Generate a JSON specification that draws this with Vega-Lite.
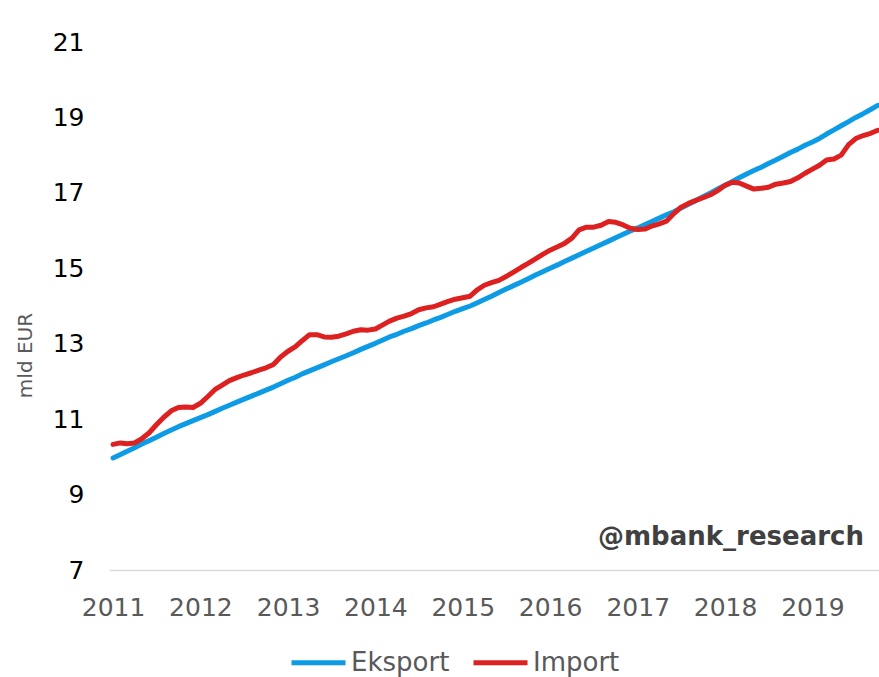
{
  "$schema": "https://vega.github.io/schema/vega-lite/v6.json",
  "width": 770,
  "height": 528,
  "autosize": {"type": "none"},
  "padding": {"left": 109, "top": 42, "right": 0, "bottom": 107},
  "background": "white",
  "config": {
    "view": {"stroke": null},
    "font": "DejaVu Sans"
  },
  "layer": [
    {
      "data": {
        "values": [
          {"d":"2011-01-01","Eksport":9.97,"Import":10.33},
          {"d":"2011-02-01","Eksport":10.06,"Import":10.37},
          {"d":"2011-03-01","Eksport":10.15,"Import":10.35},
          {"d":"2011-04-01","Eksport":10.24,"Import":10.37},
          {"d":"2011-05-01","Eksport":10.34,"Import":10.48},
          {"d":"2011-06-01","Eksport":10.43,"Import":10.64},
          {"d":"2011-07-01","Eksport":10.52,"Import":10.85},
          {"d":"2011-08-01","Eksport":10.62,"Import":11.05},
          {"d":"2011-09-01","Eksport":10.71,"Import":11.22},
          {"d":"2011-10-01","Eksport":10.80,"Import":11.31},
          {"d":"2011-11-01","Eksport":10.88,"Import":11.32},
          {"d":"2011-12-01","Eksport":10.96,"Import":11.31},
          {"d":"2012-01-01","Eksport":11.04,"Import":11.42},
          {"d":"2012-02-01","Eksport":11.12,"Import":11.60},
          {"d":"2012-03-01","Eksport":11.20,"Import":11.78},
          {"d":"2012-04-01","Eksport":11.29,"Import":11.90},
          {"d":"2012-05-01","Eksport":11.37,"Import":12.02},
          {"d":"2012-06-01","Eksport":11.45,"Import":12.10},
          {"d":"2012-07-01","Eksport":11.53,"Import":12.17},
          {"d":"2012-08-01","Eksport":11.61,"Import":12.23},
          {"d":"2012-09-01","Eksport":11.69,"Import":12.30},
          {"d":"2012-10-01","Eksport":11.77,"Import":12.36},
          {"d":"2012-11-01","Eksport":11.85,"Import":12.45},
          {"d":"2012-12-01","Eksport":11.94,"Import":12.65},
          {"d":"2013-01-01","Eksport":12.03,"Import":12.80},
          {"d":"2013-02-01","Eksport":12.11,"Import":12.92},
          {"d":"2013-03-01","Eksport":12.20,"Import":13.08},
          {"d":"2013-04-01","Eksport":12.28,"Import":13.24},
          {"d":"2013-05-01","Eksport":12.36,"Import":13.24},
          {"d":"2013-06-01","Eksport":12.44,"Import":13.18},
          {"d":"2013-07-01","Eksport":12.52,"Import":13.17},
          {"d":"2013-08-01","Eksport":12.60,"Import":13.20},
          {"d":"2013-09-01","Eksport":12.68,"Import":13.26},
          {"d":"2013-10-01","Eksport":12.76,"Import":13.33},
          {"d":"2013-11-01","Eksport":12.85,"Import":13.37},
          {"d":"2013-12-01","Eksport":12.93,"Import":13.36},
          {"d":"2014-01-01","Eksport":13.01,"Import":13.39},
          {"d":"2014-02-01","Eksport":13.10,"Import":13.50},
          {"d":"2014-03-01","Eksport":13.18,"Import":13.60},
          {"d":"2014-04-01","Eksport":13.25,"Import":13.68},
          {"d":"2014-05-01","Eksport":13.33,"Import":13.73},
          {"d":"2014-06-01","Eksport":13.40,"Import":13.80},
          {"d":"2014-07-01","Eksport":13.48,"Import":13.90},
          {"d":"2014-08-01","Eksport":13.55,"Import":13.95},
          {"d":"2014-09-01","Eksport":13.63,"Import":13.98},
          {"d":"2014-10-01","Eksport":13.70,"Import":14.05},
          {"d":"2014-11-01","Eksport":13.78,"Import":14.12},
          {"d":"2014-12-01","Eksport":13.86,"Import":14.18},
          {"d":"2015-01-01","Eksport":13.93,"Import":14.22},
          {"d":"2015-02-01","Eksport":14.00,"Import":14.26},
          {"d":"2015-03-01","Eksport":14.08,"Import":14.42},
          {"d":"2015-04-01","Eksport":14.17,"Import":14.55},
          {"d":"2015-05-01","Eksport":14.26,"Import":14.62},
          {"d":"2015-06-01","Eksport":14.36,"Import":14.68},
          {"d":"2015-07-01","Eksport":14.45,"Import":14.78},
          {"d":"2015-08-01","Eksport":14.54,"Import":14.90},
          {"d":"2015-09-01","Eksport":14.63,"Import":15.02},
          {"d":"2015-10-01","Eksport":14.72,"Import":15.13},
          {"d":"2015-11-01","Eksport":14.82,"Import":15.25},
          {"d":"2015-12-01","Eksport":14.91,"Import":15.37},
          {"d":"2016-01-01","Eksport":15.00,"Import":15.48},
          {"d":"2016-02-01","Eksport":15.09,"Import":15.57},
          {"d":"2016-03-01","Eksport":15.18,"Import":15.66},
          {"d":"2016-04-01","Eksport":15.27,"Import":15.80},
          {"d":"2016-05-01","Eksport":15.36,"Import":16.02},
          {"d":"2016-06-01","Eksport":15.45,"Import":16.09},
          {"d":"2016-07-01","Eksport":15.54,"Import":16.09},
          {"d":"2016-08-01","Eksport":15.63,"Import":16.14},
          {"d":"2016-09-01","Eksport":15.72,"Import":16.24},
          {"d":"2016-10-01","Eksport":15.81,"Import":16.22},
          {"d":"2016-11-01","Eksport":15.90,"Import":16.15},
          {"d":"2016-12-01","Eksport":15.99,"Import":16.06},
          {"d":"2017-01-01","Eksport":16.07,"Import":16.03},
          {"d":"2017-02-01","Eksport":16.16,"Import":16.04},
          {"d":"2017-03-01","Eksport":16.24,"Import":16.12},
          {"d":"2017-04-01","Eksport":16.33,"Import":16.18},
          {"d":"2017-05-01","Eksport":16.42,"Import":16.25},
          {"d":"2017-06-01","Eksport":16.50,"Import":16.45},
          {"d":"2017-07-01","Eksport":16.60,"Import":16.62},
          {"d":"2017-08-01","Eksport":16.70,"Import":16.72},
          {"d":"2017-09-01","Eksport":16.80,"Import":16.80},
          {"d":"2017-10-01","Eksport":16.90,"Import":16.87},
          {"d":"2017-11-01","Eksport":17.00,"Import":16.95},
          {"d":"2017-12-01","Eksport":17.10,"Import":17.06},
          {"d":"2018-01-01","Eksport":17.20,"Import":17.20},
          {"d":"2018-02-01","Eksport":17.30,"Import":17.28},
          {"d":"2018-03-01","Eksport":17.40,"Import":17.26},
          {"d":"2018-04-01","Eksport":17.50,"Import":17.18},
          {"d":"2018-05-01","Eksport":17.59,"Import":17.10},
          {"d":"2018-06-01","Eksport":17.68,"Import":17.12},
          {"d":"2018-07-01","Eksport":17.78,"Import":17.15},
          {"d":"2018-08-01","Eksport":17.87,"Import":17.23},
          {"d":"2018-09-01","Eksport":17.97,"Import":17.26},
          {"d":"2018-10-01","Eksport":18.07,"Import":17.30},
          {"d":"2018-11-01","Eksport":18.16,"Import":17.40},
          {"d":"2018-12-01","Eksport":18.26,"Import":17.52},
          {"d":"2019-01-01","Eksport":18.35,"Import":17.63},
          {"d":"2019-02-01","Eksport":18.45,"Import":17.74},
          {"d":"2019-03-01","Eksport":18.56,"Import":17.87},
          {"d":"2019-04-01","Eksport":18.67,"Import":17.90},
          {"d":"2019-05-01","Eksport":18.78,"Import":18.00},
          {"d":"2019-06-01","Eksport":18.89,"Import":18.28},
          {"d":"2019-07-01","Eksport":19.00,"Import":18.44},
          {"d":"2019-08-01","Eksport":19.10,"Import":18.52},
          {"d":"2019-09-01","Eksport":19.21,"Import":18.58},
          {"d":"2019-10-01","Eksport":19.32,"Import":18.66}
        ]
      },
      "transform": [{"fold": ["Eksport", "Import"], "as": ["seria", "wartosc"]}],
      "mark": {"type": "line", "strokeWidth": 5, "strokeCap": "round", "strokeJoin": "round", "clip": true},
      "encoding": {
        "x": {
          "field": "d",
          "type": "temporal",
          "scale": {
            "type": "utc",
            "domain": [
              {"year": 2010, "month": 12, "date": 15, "utc": true},
              {"year": 2019, "month": 10, "date": 6, "utc": true}
            ]
          },
          "axis": {
            "title": null,
            "format": "%Y",
            "values": [
              {"year": 2011, "month": 1, "date": 1, "utc": true},
              {"year": 2012, "month": 1, "date": 1, "utc": true},
              {"year": 2013, "month": 1, "date": 1, "utc": true},
              {"year": 2014, "month": 1, "date": 1, "utc": true},
              {"year": 2015, "month": 1, "date": 1, "utc": true},
              {"year": 2016, "month": 1, "date": 1, "utc": true},
              {"year": 2017, "month": 1, "date": 1, "utc": true},
              {"year": 2018, "month": 1, "date": 1, "utc": true},
              {"year": 2019, "month": 1, "date": 1, "utc": true}
            ],
            "grid": false,
            "ticks": false,
            "tickSize": 0,
            "domain": true,
            "domainColor": "#D9D9D9",
            "domainWidth": 1.5,
            "labelFont": "DejaVu Sans",
            "labelFontSize": 25,
            "labelColor": "#595959",
            "labelPadding": 25,
            "labelFlush": false,
            "labelOverlap": false
          }
        },
        "y": {
          "field": "wartosc",
          "type": "quantitative",
          "scale": {"domain": [7, 21], "nice": false, "zero": false},
          "axis": {
            "title": "mld EUR",
            "titleFont": "DejaVu Sans",
            "titleFontSize": 20,
            "titleFontWeight": "normal",
            "titleColor": "#595959",
            "titleAngle": -90,
            "titleAlign": "center",
            "titleBaseline": "middle",
            "titleX": -84,
            "titleY": 313,
            "values": [7, 9, 11, 13, 15, 17, 19, 21],
            "grid": false,
            "ticks": false,
            "tickSize": 0,
            "domain": false,
            "labelFont": "DejaVu Sans",
            "labelFontSize": 25,
            "labelColor": "#000000",
            "labelPadding": 25,
            "labelFlush": false,
            "labelOverlap": false
          }
        },
        "color": {
          "field": "seria",
          "type": "nominal",
          "scale": {"domain": ["Eksport", "Import"], "range": ["#0E9BE6", "#DD2020"]},
          "legend": {
            "title": null,
            "orient": "none",
            "direction": "horizontal",
            "legendX": 180,
            "legendY": 591,
            "symbolType": "stroke",
            "symbolSize": 2916,
            "symbolStrokeWidth": 5,
            "labelFont": "DejaVu Sans",
            "labelFontSize": 26,
            "labelColor": "#595959",
            "labelOffset": 3,
            "columnPadding": 13,
            "padding": 0
          }
        }
      }
    },
    {
      "data": {"values": [{"d": "2019-08-04", "v": 7.87, "t": "@mbank_research"}]},
      "mark": {"type": "text", "align": "right", "baseline": "middle", "font": "DejaVu Sans", "fontSize": 26, "fontWeight": "bold", "color": "#404040"},
      "encoding": {
        "x": {"field": "d", "type": "temporal"},
        "y": {"field": "v", "type": "quantitative"},
        "text": {"field": "t"}
      }
    }
  ]
}
